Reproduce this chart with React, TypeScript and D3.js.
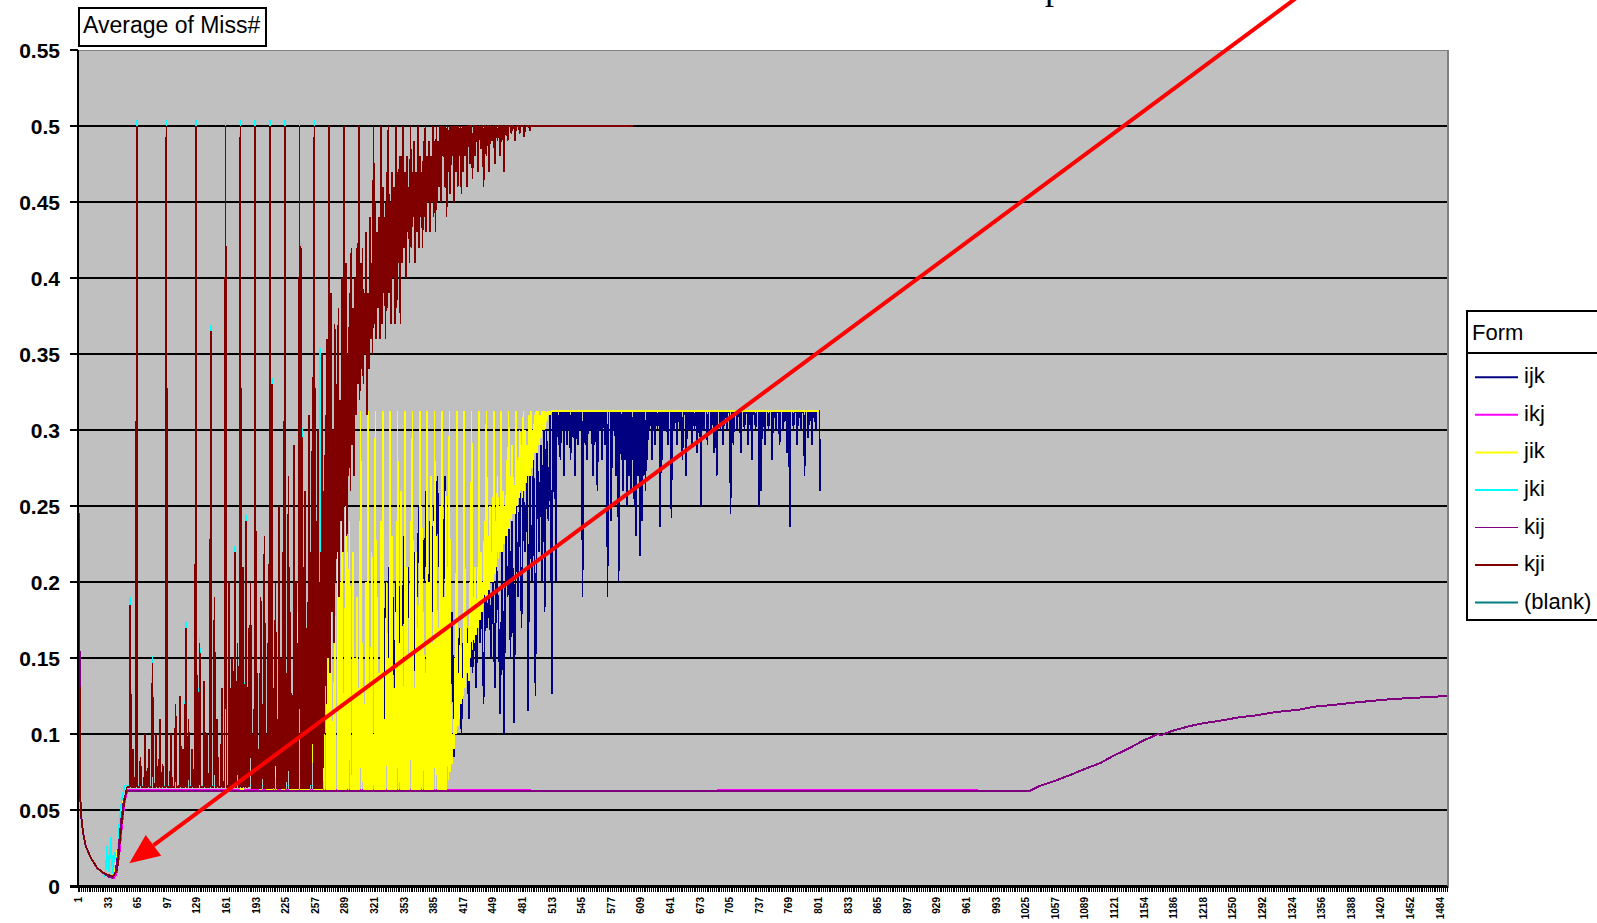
import React from 'react';
import * as d3 from 'd3';

type Pt = [number, number];

// ---------- data ----------
const CATEGORY_COUNT = 1480;

const xTickLabels = [
  '1', '33', '65', '97', '129', '161', '193', '225', '257', '289', '321', '353', '385', '417', '449', '481',
  '513', '545', '577', '609', '641', '673', '705', '737', '769', '801', '833', '865', '897', '929', '961', '993',
  '1025', '1057', '1089', '1121', '1154', '1186', '1218', '1250', '1292', '1324', '1356', '1388', '1420', '1452', '1484',
];

const yTickValues = [0, 0.05, 0.1, 0.15, 0.2, 0.25, 0.3, 0.35, 0.4, 0.45, 0.5, 0.55];
const yTickLabels = ['0', '0.05', '0.1', '0.15', '0.2', '0.25', '0.3', '0.35', '0.4', '0.45', '0.5', '0.55'];

const seriesNames = ['ijk', 'ikj', 'jik', 'jki', 'kij', 'kji', '(blank)'];

// kji: start-up curve, sparse spikes on the 0.065 floor, dense comb, elevated band, then the 0.5 plateau
const kjiHead: Pt[] = [[0, 0.25], [1, 0.17], [2, 0.058], [3, 0.046], [5, 0.035], [8, 0.026], [13, 0.019], [20, 0.012], [27, 0.0087], [34, 0.007], [38, 0.0066], [42, 0.0105], [45, 0.03], [48, 0.048], [52, 0.0645]];
const kjiFloor = 0.065;
const kjiSpikes: Pt[] = [[56, 0.185], [59, 0.09], [63, 0.5], [67, 0.085], [72, 0.1], [76, 0.09], [80, 0.147], [84, 0.1], [88, 0.11], [91, 0.08], [95, 0.5], [100, 0.1], [105, 0.12], [110, 0.125], [113, 0.09], [116, 0.17], [119, 0.11], [123, 0.09], [127, 0.5], [131, 0.16], [136, 0.135], [139, 0.1], [143, 0.365], [147, 0.19], [150, 0.11], [155, 0.13], [159, 0.5], [163, 0.2], [166, 0.15], [169, 0.22], [172, 0.16], [175, 0.5], [178, 0.21], [181, 0.24], [184, 0.17], [186, 0.2]];
const kjiCombLow = 0.064;
const kjiCombHighs = [0.1, 0.5, 0.14, 0.09, 0.19, 0.12, 0.23, 0.1, 0.16, 0.5, 0.33, 0.13, 0.2, 0.11, 0.25, 0.15, 0.22, 0.5, 0.14, 0.27, 0.18, 0.12, 0.29, 0.2, 0.16, 0.5, 0.42, 0.21, 0.26, 0.17, 0.31, 0.22, 0.335, 0.5, 0.24, 0.3, 0.2, 0.35, 0.26];
const kjiBand = [
  0.1, 0.31, 0.12, 0.36, 0.15, 0.5, 0.14, 0.39, 0.18, 0.3, 0.16, 0.37, 0.2, 0.33, 0.22, 0.38, 0.19, 0.32, 0.24, 0.4, 0.22, 0.5, 0.25, 0.41, 0.23, 0.35, 0.27, 0.39, 0.26, 0.42, 0.29, 0.38, 0.27, 0.4, 0.31,
  0.42, 0.33, 0.5, 0.32, 0.41, 0.34, 0.42, 0.33, 0.39, 0.35, 0.43, 0.31, 0.39, 0.34, 0.44, 0.36, 0.41, 0.35, 0.5, 0.37, 0.45, 0.36, 0.43, 0.38, 0.44, 0.36, 0.5, 0.37, 0.46, 0.39, 0.44, 0.36, 0.47, 0.38, 0.5, 0.39, 0.45, 0.37, 0.47, 0.4, 0.46, 0.37, 0.5, 0.38, 0.47, 0.41, 0.48, 0.37, 0.48,
  0.41, 0.5, 0.42, 0.47, 0.4, 0.48, 0.43, 0.46, 0.41, 0.5, 0.42, 0.47, 0.44, 0.49, 0.41, 0.47, 0.43, 0.5, 0.42, 0.48, 0.44, 0.47, 0.42, 0.49, 0.44, 0.5, 0.43, 0.48, 0.45, 0.49, 0.43, 0.48, 0.45, 0.5, 0.44, 0.49, 0.43, 0.5, 0.45, 0.49, 0.46,
];
const kjiPlateau = 0.5;
const kjiDips: Pt[] = [[392, 0.45], [394, 0.48], [396, 0.46], [398, 0.44], [400, 0.47], [402, 0.455], [404, 0.48], [406, 0.45], [408, 0.47], [410, 0.46], [412, 0.48], [414, 0.455], [416, 0.47], [418, 0.48], [420, 0.46], [423, 0.475], [426, 0.465], [429, 0.48], [432, 0.47], [435, 0.485], [438, 0.46], [441, 0.48], [444, 0.47], [447, 0.49], [450, 0.475], [453, 0.49], [456, 0.48], [460, 0.47], [464, 0.49], [468, 0.495], [472, 0.49], [477, 0.495], [482, 0.493], [488, 0.497]];
const kjiLast = 599;

// jki: follows kji closely, peaks sit a hair higher
const jkiHead: Pt[] = [[0, 0.25], [1, 0.17], [2, 0.058], [3, 0.046], [5, 0.035], [8, 0.026], [13, 0.019], [20, 0.012], [26, 0.009], [29, 0.006], [31, 0.026], [33, 0.009], [35, 0.032], [37, 0.008], [39, 0.022], [42, 0.015], [44, 0.04], [47, 0.058], [50, 0.066]];
const jkiFloor = 0.066;
const jkiSpikes: Pt[] = [[56, 0.19], [63, 0.504], [80, 0.151], [95, 0.504], [116, 0.174], [127, 0.504], [131, 0.164], [143, 0.369], [159, 0.504], [169, 0.224], [175, 0.504], [181, 0.244], [191, 0.504], [207, 0.504], [209, 0.334], [223, 0.504], [239, 0.504], [241, 0.424], [255, 0.504], [261, 0.354]];
const jkiLast = 263;

// jik: floor at 0.0625, comb reaching 0.3125, then flat
const jikHead: Pt[] = [[0, 0.25], [1, 0.17], [2, 0.058], [3, 0.046], [5, 0.035], [8, 0.026], [13, 0.019], [20, 0.012], [27, 0.008], [30, 0.0072], [36, 0.006], [40, 0.012], [44, 0.035], [48, 0.055], [52, 0.0625]];
const jikFloor = 0.0625;
const jikSpikes: Pt[] = [[177, 0.094], [197, 0.074], [205, 0.15], [209, 0.12], [213, 0.14], [221, 0.11], [229, 0.16], [233, 0.1], [237, 0.18], [241, 0.12], [245, 0.2], [249, 0.13], [253, 0.22], [257, 0.15], [261, 0.25], [265, 0.17], [269, 0.27], [271, 0.2], [273, 0.275], [277, 0.18], [281, 0.254], [283, 0.2], [285, 0.26], [289, 0.305], [291, 0.22], [293, 0.24]];
const jikComb = [
  0.0625, 0.22, 0.0625, 0.15, 0.0625, 0.19, 0.0625, 0.13,
  0.0625, 0.3125, 0.0625, 0.16, 0.0625, 0.12, 0.0625, 0.2,
  0.0625, 0.3125, 0.0625, 0.13, 0.0625, 0.22, 0.0625, 0.1,
  0.0625, 0.3125, 0.0625, 0.19, 0.0625, 0.14, 0.0625, 0.24,
  0.0625, 0.3125, 0.0625, 0.11, 0.0625, 0.2, 0.0625, 0.15,
  0.0625, 0.3125, 0.0625, 0.23, 0.0625, 0.13, 0.0625, 0.18,
  0.0625, 0.3125, 0.0625, 0.16, 0.0625, 0.26, 0.0625, 0.12,
  0.0625, 0.3125, 0.0625, 0.21, 0.0625, 0.15, 0.0625, 0.24,
  0.0625, 0.3125, 0.0625, 0.13, 0.0625, 0.22, 0.0625, 0.17,
  0.0625, 0.3125, 0.0625, 0.25, 0.0625, 0.18, 0.0625, 0.14,
  0.0625, 0.3125, 0.0625, 0.2, 0.0625, 0.27, 0.0625, 0.16,
  0.0625, 0.3125, 0.0625, 0.23, 0.0625, 0.17, 0.0625, 0.25,
  0.0625, 0.3125, 0.0625, 0.19, 0.0625, 0.26, 0.0625, 0.21,
  0.07, 0.3125, 0.075, 0.12, 0.08, 0.1, 0.09, 0.15,
  0.1, 0.3125, 0.105, 0.14, 0.11, 0.17, 0.12, 0.13,
  0.125, 0.3125, 0.13, 0.18, 0.14, 0.16, 0.135, 0.2,
  0.15, 0.3125, 0.155, 0.19, 0.16, 0.21, 0.165, 0.18,
  0.17, 0.3125, 0.175, 0.22, 0.18, 0.2, 0.185, 0.24,
  0.19, 0.3125, 0.19, 0.23, 0.195, 0.25, 0.2, 0.22,
  0.2, 0.3125, 0.205, 0.24, 0.21, 0.27, 0.215, 0.25,
  0.22, 0.3125, 0.22, 0.26, 0.225, 0.25, 0.23, 0.28,
  0.23, 0.3125, 0.235, 0.27, 0.24, 0.29, 0.245, 0.26,
  0.245, 0.3125, 0.25, 0.28, 0.255, 0.3, 0.26, 0.29,
  0.255, 0.3125, 0.26, 0.3, 0.265, 0.29, 0.27, 0.31,
  0.27, 0.3125, 0.275, 0.3, 0.28, 0.31, 0.285, 0.3125,
  0.285, 0.3125, 0.29, 0.31, 0.295, 0.3125, 0.3, 0.3125,
  0.3, 0.3125, 0.305, 0.3125, 0.31, 0.3125, 0.31, 0.3125,
  0.3125,
];
const jikTop = 0.3125;
const jikLast = 801;

// ijk: hidden floor, ragged climb under the jik comb, then 0.3125 with downward dips
const ijkHead: Pt[] = [[0, 0.25], [1, 0.17], [2, 0.058], [3, 0.046], [5, 0.035], [8, 0.026], [13, 0.019], [20, 0.012], [27, 0.0087], [34, 0.007], [38, 0.0066], [42, 0.0105], [45, 0.03], [48, 0.048], [52, 0.0625]];
const ijkRise: Pt[] = [[326, 0.0625], [328, 0.18], [330, 0.07], [332, 0.2], [334, 0.075], [336, 0.21], [338, 0.09], [340, 0.19], [342, 0.12], [344, 0.22], [346, 0.1], [348, 0.2], [350, 0.15], [352, 0.23], [354, 0.13], [356, 0.21], [358, 0.17], [360, 0.24], [362, 0.12], [364, 0.22], [366, 0.19], [368, 0.25], [370, 0.15], [372, 0.23], [374, 0.2], [376, 0.26], [378, 0.14], [380, 0.24], [382, 0.18], [384, 0.25], [386, 0.16], [388, 0.27], [390, 0.21], [392, 0.25], [394, 0.15], [396, 0.27], [398, 0.19], [400, 0.2], [402, 0.12], [404, 0.18], [406, 0.085], [408, 0.16], [410, 0.12], [412, 0.17], [414, 0.1], [416, 0.16], [418, 0.13], [420, 0.17], [422, 0.11], [424, 0.18], [426, 0.14], [428, 0.18], [430, 0.13], [432, 0.19], [434, 0.16], [436, 0.19], [438, 0.12], [440, 0.2], [442, 0.17], [444, 0.2], [446, 0.15], [448, 0.21], [450, 0.13], [452, 0.21], [454, 0.18], [456, 0.113], [458, 0.22], [460, 0.1], [462, 0.23], [464, 0.19], [466, 0.24], [467, 0.15], [469, 0.24], [471, 0.107], [473, 0.25], [475, 0.19], [477, 0.26], [479, 0.17], [481, 0.26], [483, 0.22], [485, 0.27], [486, 0.115], [488, 0.27], [490, 0.2], [492, 0.28], [494, 0.125], [496, 0.29], [498, 0.22], [500, 0.29], [501, 0.2], [503, 0.3], [504, 0.18], [506, 0.3], [508, 0.24], [510, 0.31], [512, 0.126], [513, 0.3125]];
const ijkTop = 0.3125;
const ijkDips: Pt[] = [[516, 0.2], [519, 0.29], [521, 0.28], [523, 0.3], [525, 0.27], [528, 0.29], [530, 0.3], [532, 0.28], [535, 0.295], [537, 0.27], [540, 0.29], [542, 0.3], [545, 0.19], [548, 0.29], [550, 0.28], [553, 0.3], [556, 0.27], [558, 0.29], [561, 0.26], [564, 0.3], [566, 0.28], [569, 0.29], [572, 0.19], [576, 0.24], [579, 0.3], [581, 0.27], [584, 0.2], [587, 0.28], [589, 0.26], [591, 0.28], [593, 0.25], [595, 0.27], [597, 0.26], [599, 0.28], [601, 0.25], [603, 0.23], [605, 0.27], [607, 0.217], [609, 0.24], [611, 0.27], [613, 0.26], [615, 0.28], [617, 0.3], [620, 0.28], [623, 0.29], [626, 0.3], [629, 0.236], [631, 0.28], [634, 0.3], [637, 0.29], [641, 0.242], [644, 0.3], [647, 0.29], [650, 0.3], [653, 0.28], [657, 0.27], [660, 0.3], [663, 0.29], [666, 0.3], [669, 0.285], [673, 0.25], [676, 0.3], [680, 0.29], [684, 0.3], [687, 0.285], [690, 0.27], [694, 0.3], [697, 0.29], [701, 0.3], [705, 0.245], [708, 0.29], [712, 0.3], [716, 0.285], [720, 0.3], [724, 0.29], [728, 0.28], [732, 0.3], [736, 0.25], [738, 0.26], [742, 0.29], [746, 0.3], [750, 0.28], [754, 0.3], [758, 0.29], [762, 0.3], [766, 0.285], [769, 0.236], [773, 0.3], [777, 0.29], [781, 0.3], [785, 0.27], [789, 0.295], [793, 0.29], [797, 0.3]];
const ijkTail: Pt[] = [[801, 0.3125], [802, 0.26]];

// ikj: flat at the floor after the dip
const ikjPts: Pt[] = [[0, 0.25], [1, 0.17], [2, 0.058], [3, 0.046], [5, 0.035], [8, 0.026], [13, 0.019], [20, 0.012], [27, 0.0085], [33, 0.006], [38, 0.005], [41, 0.008], [44, 0.02], [47, 0.04], [50, 0.056], [53, 0.0634], [488, 0.0634], [489, 0.0625], [690, 0.0625], [691, 0.0634], [973, 0.0634]];

// kij: flat until ~1029, then a slow climb to 0.125
const kijPts: Pt[] = [[0, 0.25], [1, 0.17], [2, 0.058], [3, 0.046], [5, 0.035], [8, 0.026], [13, 0.019], [20, 0.012], [27, 0.0085], [33, 0.006], [37, 0.0055], [40, 0.009], [43, 0.022], [46, 0.042], [49, 0.056], [52, 0.0625], [1028, 0.0625], [1040, 0.066], [1055, 0.069], [1072, 0.073], [1088, 0.077], [1105, 0.081], [1120, 0.086], [1127, 0.088], [1140, 0.092], [1152, 0.096], [1160, 0.098], [1167, 0.1], [1170, 0.099], [1182, 0.102], [1200, 0.105], [1215, 0.107], [1237, 0.109], [1255, 0.111], [1270, 0.112], [1290, 0.114], [1303, 0.115], [1320, 0.116], [1336, 0.118], [1355, 0.119], [1369, 0.12], [1385, 0.121], [1402, 0.122], [1420, 0.123], [1435, 0.1235], [1450, 0.124], [1465, 0.1245], [1479, 0.125]];

// annotation arrow, in data units (category, value)
const arrowTail: Pt = [1316, 0.584];
const arrowTip: Pt = [55, 0.015];

// ---------- builders ----------
function withSpikes(floor: number, from: number, to: number, spikes: Pt[]): Pt[] {
  const out: Pt[] = [[from, floor]];
  spikes.forEach(([i, v]) => out.push([i - 1, floor], [i, v], [i + 1, floor]));
  out.push([to, floor]);
  return out;
}
function withDips(top: number, from: number, to: number, dips: Pt[]): Pt[] {
  const out: Pt[] = [[from, top]];
  dips.forEach(([i, v]) => out.push([i - 1, top], [i, v], [i + 1, top]));
  out.push([to, top]);
  return out;
}
function comb(start: number, low: number, highs: number[]): Pt[] {
  const out: Pt[] = [];
  highs.forEach((h, k) => out.push([start + 2 * k, low], [start + 2 * k + 1, h]));
  return out;
}
function run(start: number, values: number[]): Pt[] {
  return values.map((v, k) => [start + k, v] as Pt);
}

const kjiData: Pt[] = [
  ...kjiHead,
  ...withSpikes(kjiFloor, 53, 187, kjiSpikes),
  ...comb(188, kjiCombLow, kjiCombHighs),
  ...run(266, kjiBand),
  ...withDips(kjiPlateau, 391, kjiLast, kjiDips),
];
const jkiData: Pt[] = [...jkiHead, ...withSpikes(jkiFloor, 50, jkiLast, jkiSpikes)];
const jikData: Pt[] = [...jikHead, ...withSpikes(jikFloor, 52, 295, jikSpikes), ...run(296, jikComb), [jikLast, jikTop]];
const ijkData: Pt[] = [...ijkHead, ...ijkRise, ...withDips(ijkTop, 513, 801, ijkDips), ...ijkTail];

const seriesData: (Pt[] | null)[] = [ijkData, ikjPts, jikData, jkiData, kijPts, kjiData, null];

// ---------- styles ----------
const seriesColors = ['#000080', '#FF00FF', '#FFFF00', '#00FFFF', '#800080', '#800000', '#008080'];
const seriesWidths = [1.6, 2, 1.6, 1.6, 2, 1.6, 2];
const legendWidths = [2, 2, 2, 2, 1, 2, 2];

const PLOT = { left: 78, right: 1447, top: 50, bottom: 886 };
const SANS = '"Liberation Sans", Arial, Helvetica, sans-serif';

export default function App() {
  const x = d3.scaleLinear().domain([-0.5, CATEGORY_COUNT - 0.5]).range([PLOT.left, PLOT.right]);
  const y = d3.scaleLinear().domain([0, 0.55]).range([PLOT.bottom, PLOT.top]);
  const line = d3.line<Pt>().x((d) => x(d[0])).y((d) => y(d[1]));

  const tickXs = d3.range(0, CATEGORY_COUNT + 1, 2).map((k) => Math.floor(x(k - 0.5)) + 0.5);

  // arrow geometry
  const tx = x(arrowTip[0]);
  const ty = y(arrowTip[1]);
  const sx = x(arrowTail[0]);
  const sy = y(arrowTail[1]);
  const len = Math.hypot(sx - tx, sy - ty);
  const ux = (sx - tx) / len;
  const uy = (sy - ty) / len;
  const headLen = 30;
  const headHalf = 13;
  const bx = tx + ux * headLen;
  const by = ty + uy * headLen;
  const headPts = [
    [tx, ty],
    [bx - uy * headHalf, by + ux * headHalf],
    [bx + uy * headHalf, by - ux * headHalf],
  ]
    .map((p) => p.join(','))
    .join(' ');

  const legendX = 1467;
  const legendTop = 311;
  const legendRowY = (i: number) => 377.3 + i * 37.55;

  return (
    <svg
      width={1597}
      height={923}
      style={{ position: 'absolute', left: 0, top: 0, background: '#ffffff' }}
      xmlns="http://www.w3.org/2000/svg"
    >
      {/* heading, mostly above the top edge */}
      <text x={1045} y={-1} fontFamily='"Liberation Serif", "Times New Roman", serif' fontSize={36} fill="#000">
        p
      </text>

      {/* plot area */}
      <rect x={PLOT.left} y={PLOT.top} width={PLOT.right - PLOT.left} height={PLOT.bottom - PLOT.top} fill="#C0C0C0" />
      <line x1={PLOT.left} x2={PLOT.right} y1={PLOT.top + 0.5} y2={PLOT.top + 0.5} stroke="#808080" strokeWidth={1} />
      <rect x={PLOT.right} y={PLOT.top} width={2} height={PLOT.bottom - PLOT.top + 2} fill="#808080" />

      {/* gridlines */}
      {yTickValues.slice(1, -1).map((v) => (
        <line key={v} x1={PLOT.left} x2={PLOT.right} y1={Math.round(y(v))} y2={Math.round(y(v))} stroke="#000" strokeWidth={2} shapeRendering="crispEdges" />
      ))}

      {/* series */}
      {seriesData.map((d, i) =>
        d ? (
          <path
            key={seriesNames[i]}
            d={line(d) ?? ''}
            fill="none"
            stroke={seriesColors[i]}
            strokeWidth={seriesWidths[i]}
            strokeLinejoin="bevel"
            shapeRendering="crispEdges"
          />
        ) : null
      )}

      {/* y axis */}
      <line x1={PLOT.left} x2={PLOT.left} y1={PLOT.top} y2={PLOT.bottom + 1} stroke="#000" strokeWidth={2} shapeRendering="crispEdges" />
      {yTickValues.map((v, i) => (
        <g key={v}>
          <line x1={70} x2={PLOT.left} y1={Math.round(y(v))} y2={Math.round(y(v))} stroke="#000" strokeWidth={2} shapeRendering="crispEdges" />
          <text x={60} y={y(v)} textAnchor="end" dominantBaseline="central" fontFamily={SANS} fontWeight="bold" fontSize={21} fill="#000">
            {yTickLabels[i]}
          </text>
        </g>
      ))}

      {/* x axis */}
      <line x1={70} x2={PLOT.right} y1={PLOT.bottom} y2={PLOT.bottom} stroke="#000" strokeWidth={3} shapeRendering="crispEdges" />
      <path d={tickXs.map((tx0) => `M${tx0},${PLOT.bottom}V${PLOT.bottom + 6}`).join('')} stroke="#000" strokeWidth={1} shapeRendering="crispEdges" />
      {xTickLabels.map((lab, k) => {
        const cx = x(k * 32);
        return (
          <text
            key={lab + k}
            transform={`translate(${cx},897) rotate(-90)`}
            textAnchor="end"
            dominantBaseline="central"
            fontFamily={SANS}
            fontWeight="bold"
            fontSize={10}
            fill="#000"
          >
            {lab}
          </text>
        );
      })}

      {/* field button */}
      <rect x={79} y={8} width={187} height={38} fill="#fff" stroke="#000" strokeWidth={2} />
      <text x={83} y={33} fontFamily={SANS} fontSize={23} fill="#000">
        Average of Miss#
      </text>

      {/* legend */}
      <rect x={legendX} y={legendTop} width={200} height={309} fill="#fff" stroke="#000" strokeWidth={2} />
      <line x1={legendX} x2={1597} y1={353} y2={353} stroke="#000" strokeWidth={2} />
      <text x={1472} y={340} fontFamily={SANS} fontSize={22} fill="#000">
        Form
      </text>
      {seriesNames.map((name, i) => (
        <g key={name}>
          <line x1={1475} x2={1518} y1={legendRowY(i)} y2={legendRowY(i)} stroke={seriesColors[i]} strokeWidth={legendWidths[i]} />
          <text x={1524} y={legendRowY(i) + 6} fontFamily={SANS} fontSize={22} fill="#000">
            {name}
          </text>
        </g>
      ))}

      {/* annotation arrow */}
      <line x1={sx} y1={sy} x2={bx} y2={by} stroke="#FF0000" strokeWidth={4} />
      <polygon points={headPts} fill="#FF0000" />
    </svg>
  );
}
